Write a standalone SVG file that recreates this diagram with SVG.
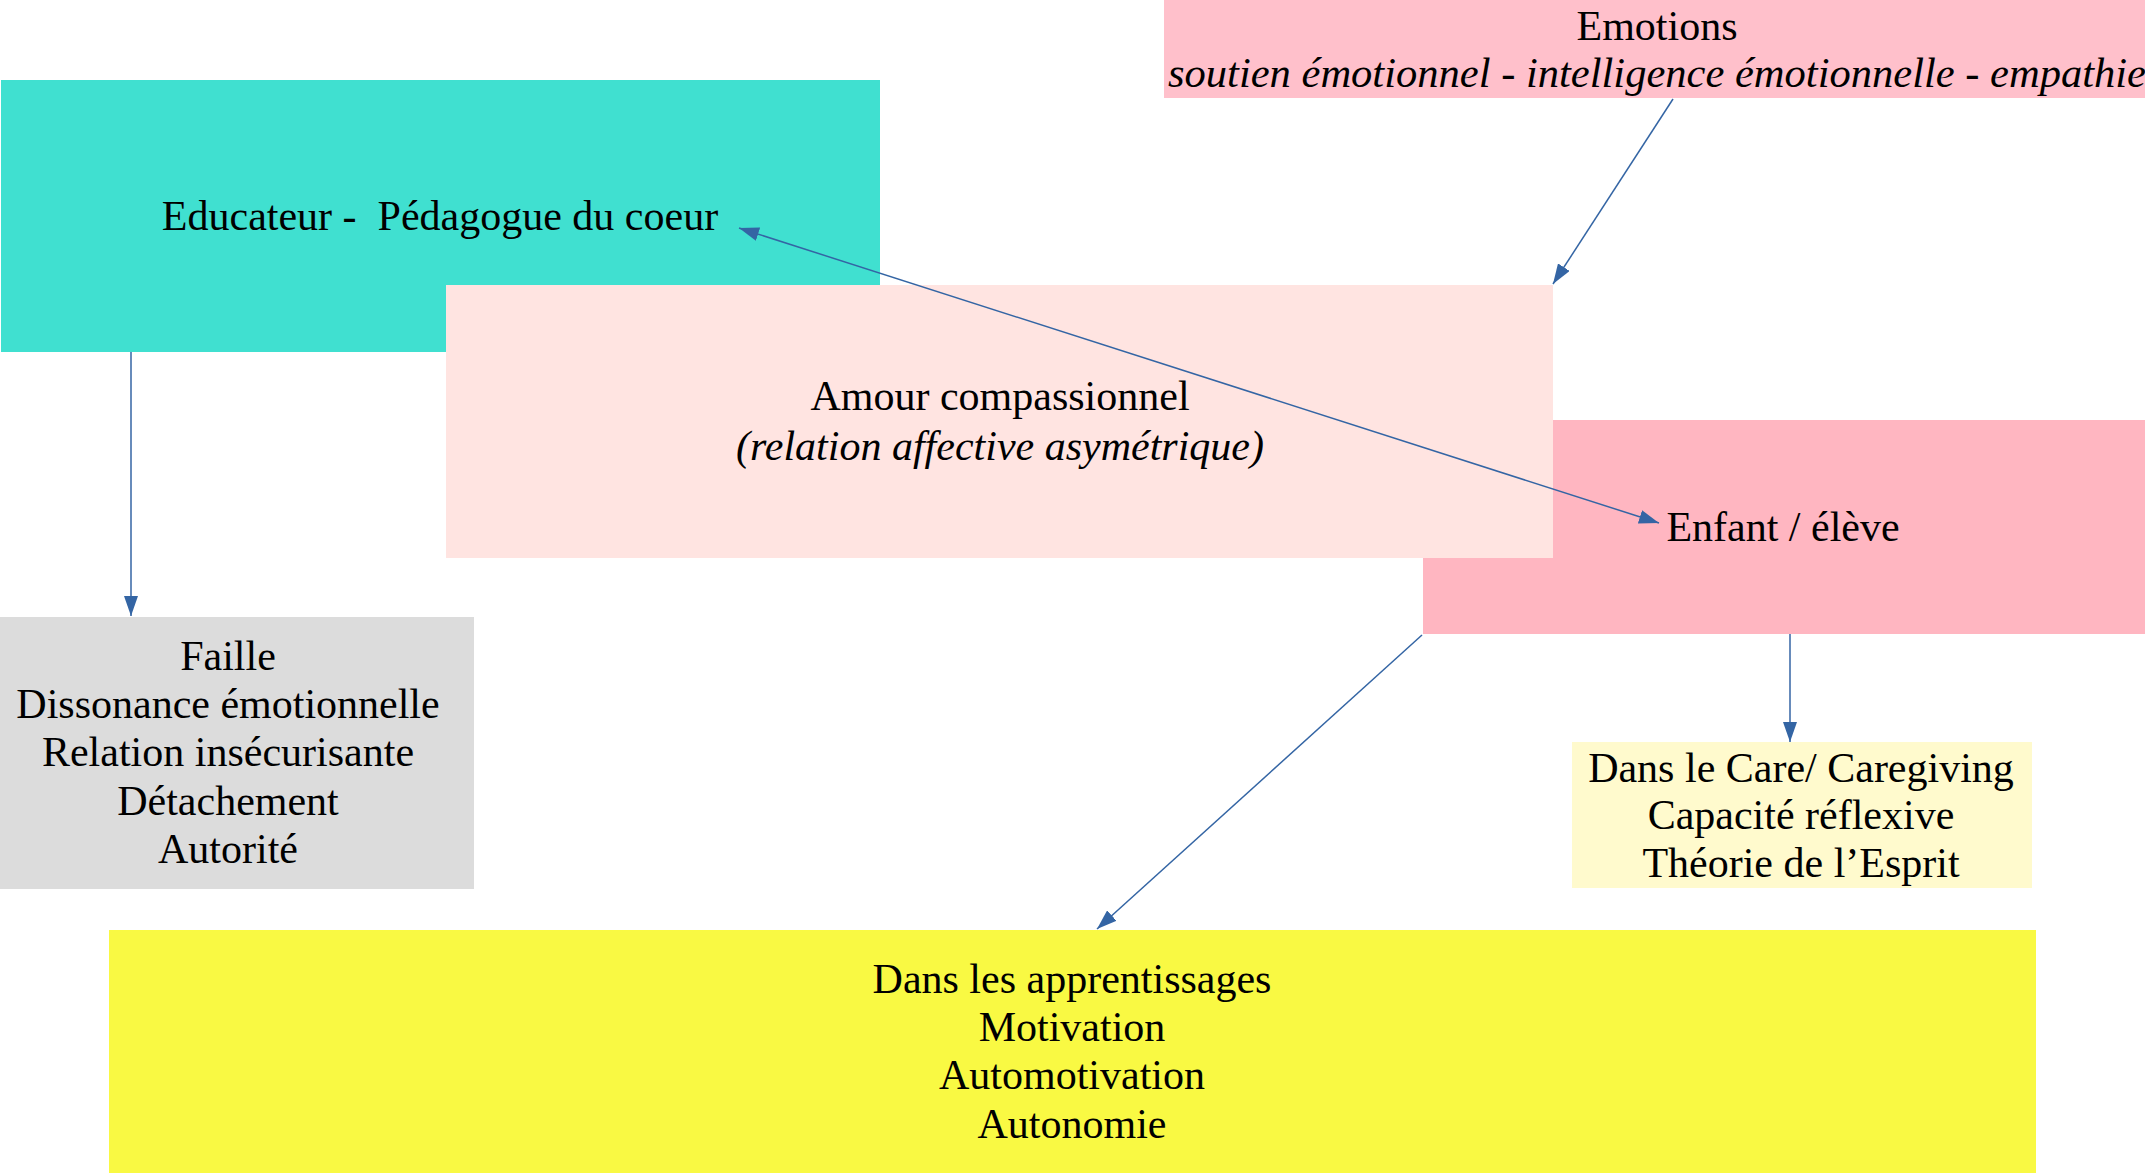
<svg xmlns="http://www.w3.org/2000/svg" width="2145" height="1173" viewBox="0 0 2145 1173">
<style>
text { font-family: "Liberation Serif", "Times New Roman", serif; font-size: 42px; fill: #000; text-anchor: middle; white-space: pre; }
.it { font-style: italic; }
.conn { stroke: #3465A4; stroke-width: 1.5; fill: none; }
</style>
<defs>
<marker id="ah" markerUnits="userSpaceOnUse" markerWidth="20" markerHeight="14" refX="20" refY="7" orient="auto-start-reverse">
<path d="M0,0 L20,7 L0,14 z" fill="#3465A4"/>
</marker>
</defs>
<rect width="2145" height="1173" fill="#fff"/>
<g id="emotions">
<rect x="1164" y="0" width="981" height="98" fill="#FFC0CB"/>
<text x="1657" y="40">Emotions</text>
<text class="it" x="1657" y="87" textLength="978" lengthAdjust="spacingAndGlyphs">soutien émotionnel - intelligence émotionnelle - empathie</text>
</g>
<g id="educateur">
<rect x="1" y="80" width="879" height="272" fill="#40E0D0"/>
<text x="440" y="230" xml:space="preserve">Educateur -  Pédagogue du coeur</text>
</g>
<g id="enfant">
<rect x="1423" y="420" width="722" height="214" fill="#FFB6C1"/>
<text x="1783" y="541">Enfant / élève</text>
</g>
<g id="amour">
<rect x="446" y="285" width="1107" height="273" fill="#FFE4E1"/>
<text x="1000" y="410">Amour compassionnel</text>
<text class="it" x="1000" y="460">(relation affective asymétrique)</text>
</g>
<g id="faille">
<rect x="0" y="617" width="474" height="272" fill="#DCDCDC"/>
<text x="228" y="670">Faille</text>
<text x="228" y="718">Dissonance émotionnelle</text>
<text x="228" y="766">Relation insécurisante</text>
<text x="228" y="815">Détachement</text>
<text x="228" y="863">Autorité</text>
</g>
<g id="care">
<rect x="1572" y="742" width="460" height="146" fill="#FFFACD"/>
<text x="1801" y="782">Dans le Care/ Caregiving</text>
<text x="1801" y="829">Capacité réflexive</text>
<text x="1801" y="877">Théorie de l’Esprit</text>
</g>
<g id="apprentissages">
<rect x="109" y="930" width="1927" height="243" fill="#F9F943"/>
<text x="1072" y="993">Dans les apprentissages</text>
<text x="1072" y="1041">Motivation</text>
<text x="1072" y="1089">Automotivation</text>
<text x="1072" y="1138">Autonomie</text>
</g>
<g id="connectors">
<line class="conn" x1="1673" y1="99" x2="1553" y2="284" marker-end="url(#ah)"/>
<line class="conn" x1="739" y1="228" x2="1659" y2="523" marker-start="url(#ah)" marker-end="url(#ah)"/>
<line class="conn" x1="131" y1="352" x2="131" y2="616" marker-end="url(#ah)"/>
<line class="conn" x1="1790" y1="634" x2="1790" y2="742" marker-end="url(#ah)"/>
<line class="conn" x1="1422" y1="635" x2="1097" y2="929" marker-end="url(#ah)"/>
</g>
</svg>
